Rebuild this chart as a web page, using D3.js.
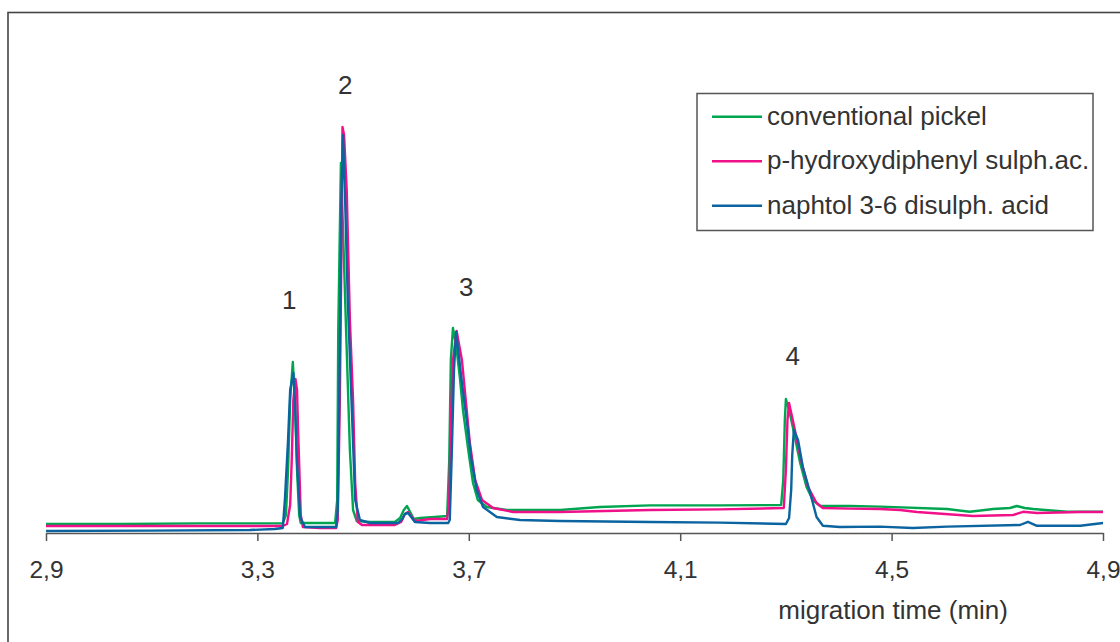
<!DOCTYPE html>
<html>
<head>
<meta charset="utf-8">
<script src="https://cdn.jsdelivr.net/npm/d3@7"></script>
<style>
  html, body { margin: 0; padding: 0; background: #fff; }
  svg { display: block; font-family: "Liberation Sans", Arial, sans-serif; }
</style>
</head>
<body>
<svg id="chart" width="1120" height="642"></svg>
<script>
// ---- data (migration time in min, detector signal in arbitrary units) ----
const seriesNames = ["conventional pickel", "p-hydroxydiphenyl sulph.ac.", "naphtol 3-6 disulph. acid"];
const seriesColors = ["#00a550", "#f0108a", "#0b64a0"];
const xTicks = [2.9, 3.3, 3.7, 4.1, 4.5, 4.9];
const peakLabels = ["1", "2", "3", "4"];
const peakTimes = [3.360, 3.466, 3.695, 4.313];
const peakLabelValues = [5.6, 10.975, 5.925, 4.2];
const axisTitle = "migration time (min)";

const conventionalPickel = [
  [2.900,0.225],[3.040,0.225],[3.191,0.24],[3.348,0.24],[3.354,0.45],[3.358,1.575],[3.362,3.325],[3.367,4.275],
  [3.371,3.325],[3.375,1.575],[3.379,0.45],[3.382,0.25],[3.418,0.25],[3.447,0.25],[3.451,0.825],[3.453,5.075],
  [3.458,9.25],[3.462,7.575],[3.468,5.0],[3.475,2.075],[3.481,0.575],[3.488,0.3],[3.513,0.275],[3.560,0.275],
  [3.570,0.375],[3.577,0.575],[3.583,0.675],[3.589,0.525],[3.596,0.35],[3.608,0.375],[3.636,0.4],[3.659,0.425],
  [3.663,1.825],[3.666,4.325],[3.670,5.125],[3.676,4.7],[3.683,3.9],[3.689,3.075],[3.699,2.075],[3.708,1.25],
  [3.717,0.825],[3.734,0.65],[3.772,0.575],[3.873,0.575],[3.948,0.65],[4.043,0.69],[4.175,0.69],[4.291,0.7],
  [4.295,1.325],[4.298,2.825],[4.300,3.35],[4.306,3.075],[4.313,2.65],[4.327,1.75],[4.339,1.15],[4.351,0.825],
  [4.365,0.675],[4.421,0.675],[4.478,0.66],[4.605,0.6],[4.648,0.53],[4.692,0.6],[4.724,0.625],[4.737,0.675],
  [4.752,0.625],[4.768,0.6],[4.832,0.53],[4.900,0.53]
];

const hydroxydiphenyl = [
  [2.900,0.175],[3.097,0.175],[3.348,0.175],[3.356,0.225],[3.362,0.7],[3.365,1.825],[3.368,3.325],[3.372,3.85],
  [3.375,3.575],[3.377,2.575],[3.380,1.325],[3.382,0.45],[3.386,0.15],[3.418,0.125],[3.449,0.125],[3.452,0.325],
  [3.456,3.325],[3.459,7.075],[3.461,10.15],[3.464,9.95],[3.469,8.575],[3.475,5.325],[3.481,3.325],[3.485,1.25],
  [3.490,0.275],[3.498,0.2],[3.560,0.2],[3.572,0.275],[3.579,0.475],[3.585,0.525],[3.591,0.425],[3.598,0.3],
  [3.627,0.35],[3.659,0.35],[3.663,0.825],[3.666,2.825],[3.670,4.325],[3.677,5.05],[3.680,4.825],[3.687,4.325],
  [3.693,3.5],[3.702,2.25],[3.712,1.325],[3.725,0.825],[3.746,0.625],[3.784,0.525],[3.873,0.525],[4.043,0.575],
  [4.175,0.59],[4.296,0.625],[4.300,1.575],[4.303,2.825],[4.306,3.25],[4.313,2.825],[4.330,1.75],[4.342,1.15],
  [4.358,0.75],[4.370,0.625],[4.421,0.61],[4.478,0.6],[4.516,0.575],[4.548,0.525],[4.654,0.425],[4.730,0.45],
  [4.749,0.53],[4.775,0.5],[4.857,0.525],[4.900,0.525]
];

const naphtolDisulph = [
  [2.900,0.05],[3.097,0.06],[3.286,0.075],[3.333,0.1],[3.348,0.125],[3.352,0.825],[3.358,2.325],[3.362,3.575],
  [3.368,4.0],[3.371,3.325],[3.375,1.75],[3.381,0.4],[3.390,0.15],[3.418,0.15],[3.449,0.15],[3.452,0.575],
  [3.456,4.575],[3.459,8.325],[3.462,9.95],[3.466,8.325],[3.471,5.825],[3.478,3.325],[3.485,0.825],[3.494,0.325],
  [3.513,0.25],[3.566,0.25],[3.574,0.35],[3.579,0.475],[3.585,0.5],[3.591,0.4],[3.598,0.275],[3.627,0.25],
  [3.661,0.25],[3.664,0.325],[3.668,2.075],[3.672,4.075],[3.676,5.025],[3.680,4.575],[3.687,3.75],[3.696,2.825],
  [3.705,1.825],[3.715,1.075],[3.727,0.65],[3.753,0.4],[3.797,0.325],[3.873,0.3],[4.043,0.275],[4.175,0.26],
  [4.300,0.225],[4.306,0.375],[4.310,1.075],[4.312,1.95],[4.315,2.575],[4.323,2.325],[4.332,1.65],[4.346,1.0],
  [4.358,0.4],[4.370,0.18],[4.402,0.15],[4.478,0.16],[4.540,0.125],[4.605,0.16],[4.743,0.2],[4.758,0.28],
  [4.775,0.18],[4.857,0.18],[4.900,0.25]
];

const traces = [conventionalPickel, hydroxydiphenyl, naphtolDisulph];

// ---- drawing ----
const svg = d3.select("#chart");
const FONT = 26;
const TICKFONT = 24.5;

// outer frame
svg.append("rect")
  .attr("x", 8).attr("y", 12.5).attr("width", 1300).attr("height", 800)
  .attr("fill", "none").attr("stroke", "#444").attr("stroke-width", 1.6);

const x = d3.scaleLinear().domain([2.9, 4.9]).range([46, 1103]);
const y = d3.scaleLinear().domain([0, 10.5]).range([533, 113]);

// axis
const xAxis = d3.axisBottom(x)
  .tickValues(xTicks)
  .tickFormat(d => d3.format(".1f")(d).replace(".", ","))
  .tickSize(8).tickSizeOuter(0).tickPadding(20);

const gx = svg.append("g").attr("transform", `translate(0,${y(0)})`).call(xAxis);
gx.select(".domain").attr("stroke", "#555").attr("stroke-width", 1.5);
gx.selectAll(".tick line").attr("stroke", "#555").attr("stroke-width", 1.5);
gx.selectAll(".tick text").attr("fill", "#333").style("font-size", TICKFONT + "px")
  .style("font-family", "'Liberation Sans', Arial, sans-serif");

svg.append("text")
  .attr("x", 1008).attr("y", 619)
  .attr("text-anchor", "end")
  .attr("fill", "#333")
  .style("font-size", FONT + "px")
  .text(axisTitle);

// traces
const line = d3.line().x(d => x(d[0])).y(d => y(d[1]));
traces.forEach((tr, i) => {
  svg.append("path")
    .datum(tr)
    .attr("d", line)
    .attr("fill", "none")
    .attr("stroke", seriesColors[i])
    .attr("stroke-width", 2.4)
    .attr("stroke-linejoin", "round");
});

// peak labels
svg.selectAll(".peak")
  .data(peakLabels)
  .enter().append("text")
  .attr("class", "peak")
  .attr("x", (d, i) => x(peakTimes[i]))
  .attr("y", (d, i) => y(peakLabelValues[i]))
  .attr("text-anchor", "middle")
  .attr("fill", "#333")
  .style("font-size", FONT + "px")
  .text(d => d);

// legend
const lg = svg.append("g");
lg.append("rect")
  .attr("x", 697).attr("y", 93.5).attr("width", 396).attr("height", 137)
  .attr("fill", "#fff").attr("stroke", "#555").attr("stroke-width", 1.5);
seriesNames.forEach((name, i) => {
  const ly = 116.7 + i * 44.5;
  lg.append("line")
    .attr("x1", 712).attr("x2", 762).attr("y1", ly).attr("y2", ly)
    .attr("stroke", seriesColors[i]).attr("stroke-width", 2.4);
  lg.append("text")
    .attr("x", 767).attr("y", ly + 8)
    .attr("fill", "#333")
    .style("font-size", FONT + "px")
    .text(name);
});
</script>
</body>
</html>
